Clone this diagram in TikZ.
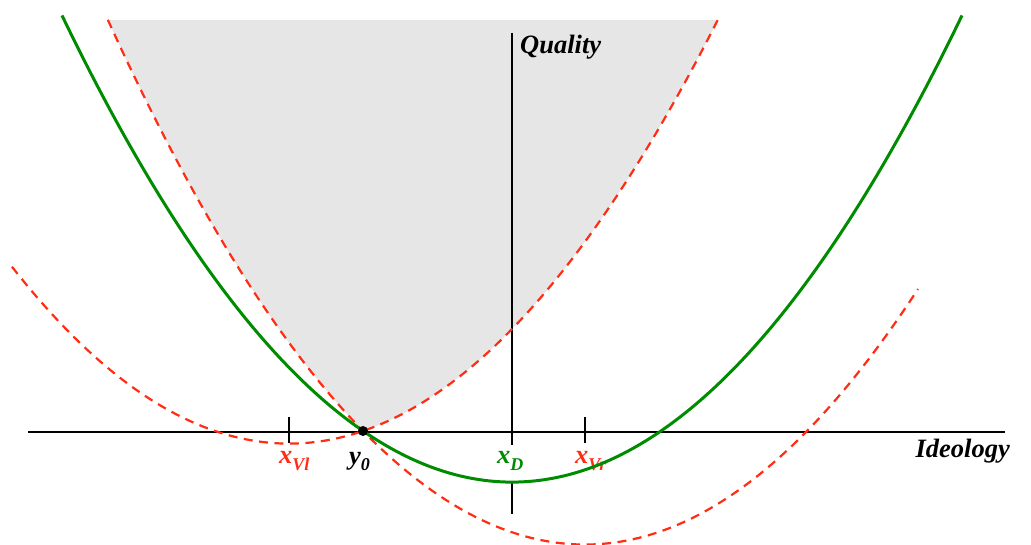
\documentclass[tikz,border=0pt]{standalone}
\usepackage{fontspec}
\setmainfont{Liberation Serif}
\definecolor{redc}{RGB}{255,45,20}
\definecolor{greenc}{RGB}{0,140,0}
\definecolor{shadec}{RGB}{230,230,230}
\begin{document}
\begin{tikzpicture}[x=1pt,y=1pt,
  redcurve/.style={draw=redc, line width=2.2pt, dash pattern=on 9pt off 6.5pt},
  greencurve/.style={draw=greenc, line width=3pt},
  axisline/.style={draw=black, line width=1.3pt},
  tickmark/.style={draw=black, line width=2.6pt},
  lbl/.style={font=\fontsize{26.5}{26.5}\selectfont\bfseries\itshape, inner sep=0pt}]
\useasboundingbox (0,0) rectangle (1031,544);
% shaded region between the two red parabolas
\fill[shadec] plot[domain=107.8:363, samples=80] (\x, {-0.55+(0.048*(\x-585))^2})
  -- plot[domain=363:717.8, samples=80] (\x, {100.4+(0.048*(\x-289))^2}) -- cycle;
% axes
\coordinate (hl) at (28,112);
\coordinate (hr) at (1005,112);
\coordinate (vt) at (512,511);
\coordinate (vm) at (512,99);
\coordinate (vg) at (512,62);
\coordinate (vb) at (512,30);
\draw[axisline] (hl) -- (hr);
\draw[axisline] (vt) -- (vm);
\draw[axisline] (vg) -- (vb);
% ticks
\coordinate (t1a) at (289,127); \coordinate (t1b) at (289,101);
\coordinate (t2a) at (512,124); \coordinate (t2b) at (512,99);
\coordinate (t3a) at (585,127); \coordinate (t3b) at (585,101);
\draw[tickmark] (t1a) -- (t1b);
\draw[tickmark] (t2a) -- (t2b);
\draw[tickmark] (t3a) -- (t3b);
% red dashed parabolas
\draw[redcurve] plot[domain=12:717.8, samples=160] (\x, {100.4+(0.048*(\x-289))^2});
\draw[redcurve] plot[domain=107.8:918, samples=160] (\x, {-0.55+(0.048*(\x-585))^2});
% labels
\node[lbl, anchor=base west] (quality) at (520,490) {Quality};
\node[lbl, anchor=base east] (ideology) at (1010,87) {Ideology};
\node[lbl, anchor=base west, text=redc] (xvl) at (279,81) {x{\fontsize{18}{18}\selectfont\raisebox{-7pt}{Vl}}};
\node[lbl, anchor=base west, text=black] (ylab) at (349,80) {y{\fontsize{18}{18}\selectfont\raisebox{-7pt}{0}}};
\node[lbl, anchor=base west, text=greenc] (xd) at (497,81) {x{\fontsize{18}{18}\selectfont\raisebox{-7pt}{D}}};
\node[lbl, anchor=base west, text=redc] (xvr) at (575,81) {x{\fontsize{18}{18}\selectfont\raisebox{-7pt}{Vr}}};
% green parabola
\draw[greencurve] plot[domain=62:962, samples=200] (\x, {61.9+(0.048*(\x-512))^2});
% point y0
\node[circle, fill=black, inner sep=0pt, minimum size=10pt] (y0) at (363,113) {};
\end{tikzpicture}
\end{document}
